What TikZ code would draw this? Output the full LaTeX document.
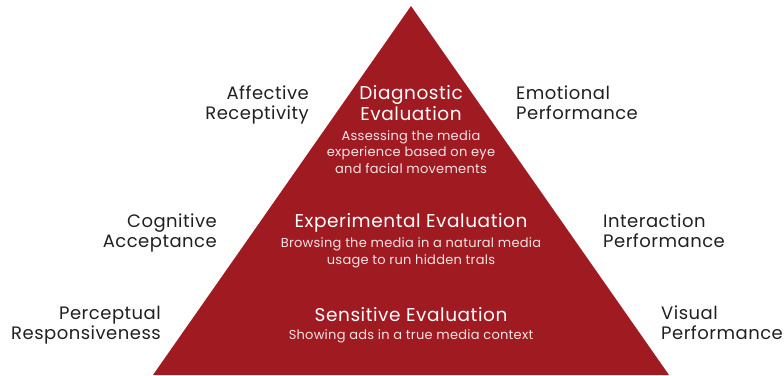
\documentclass[tikz,border=0pt]{standalone}
\usepackage{fontspec}
\setmainfont{Poppins}
\definecolor{pyr}{HTML}{A01A22}
\definecolor{lbl}{HTML}{231F20}
\definecolor{sub}{HTML}{F6E4E4}
\begin{document}
\begin{tikzpicture}[x=1pt,y=1pt,
  side/.style={text=lbl,font=\fontsize{18}{20}\selectfont\addfontfeature{LetterSpace=2.7},inner sep=0pt},
  ttl/.style={text=white,font=\fontsize{18.5}{21}\selectfont\addfontfeature{LetterSpace=3},inner sep=0pt,align=center},
  subt/.style={text=sub,font=\fontsize{13}{16.5}\selectfont\addfontfeature{LetterSpace=2},inner sep=0pt,align=center}]
\useasboundingbox (0,0) rectangle (784,-375);
\coordinate (apex) at (411,-6);
\coordinate (bl) at (153,-375);
\coordinate (br) at (669,-375);
\fill[pyr] (apex) -- (bl) -- (br) -- cycle;
% inside
\node[ttl] (diag) at (411,-103) {Diagnostic\\Evaluation};
\node[subt] (diags) at (411,-152) {Assessing the media\\experience based on eye\\and facial movements};
\node[ttl] (exp) at (411,-222.5) {Experimental Evaluation};
\node[subt] (exps) at (411,-253) {Browsing the media in a natural media\\usage to run hidden trals};
\node[ttl] (sens) at (411,-314.5) {Sensitive Evaluation};
\node[subt] (senss) at (411,-336) {Showing ads in a true media context};
% left
\node[side,align=right,anchor=east] (aff) at (309,-105) {Affective\\Receptivity};
\node[side,align=right,anchor=east] (cog) at (217,-233) {Cognitive\\Acceptance};
\node[side,align=right,anchor=east] (per) at (161,-325) {Perceptual\\Responsiveness};
% right
\node[side,align=left,anchor=west] (emo) at (516,-103) {Emotional\\Performance};
\node[side,align=left,anchor=west] (int) at (603,-231) {Interaction\\Performance};
\node[side,align=left,anchor=west] (vis) at (661,-323) {Visual\\Performance};
\end{tikzpicture}
\end{document}
